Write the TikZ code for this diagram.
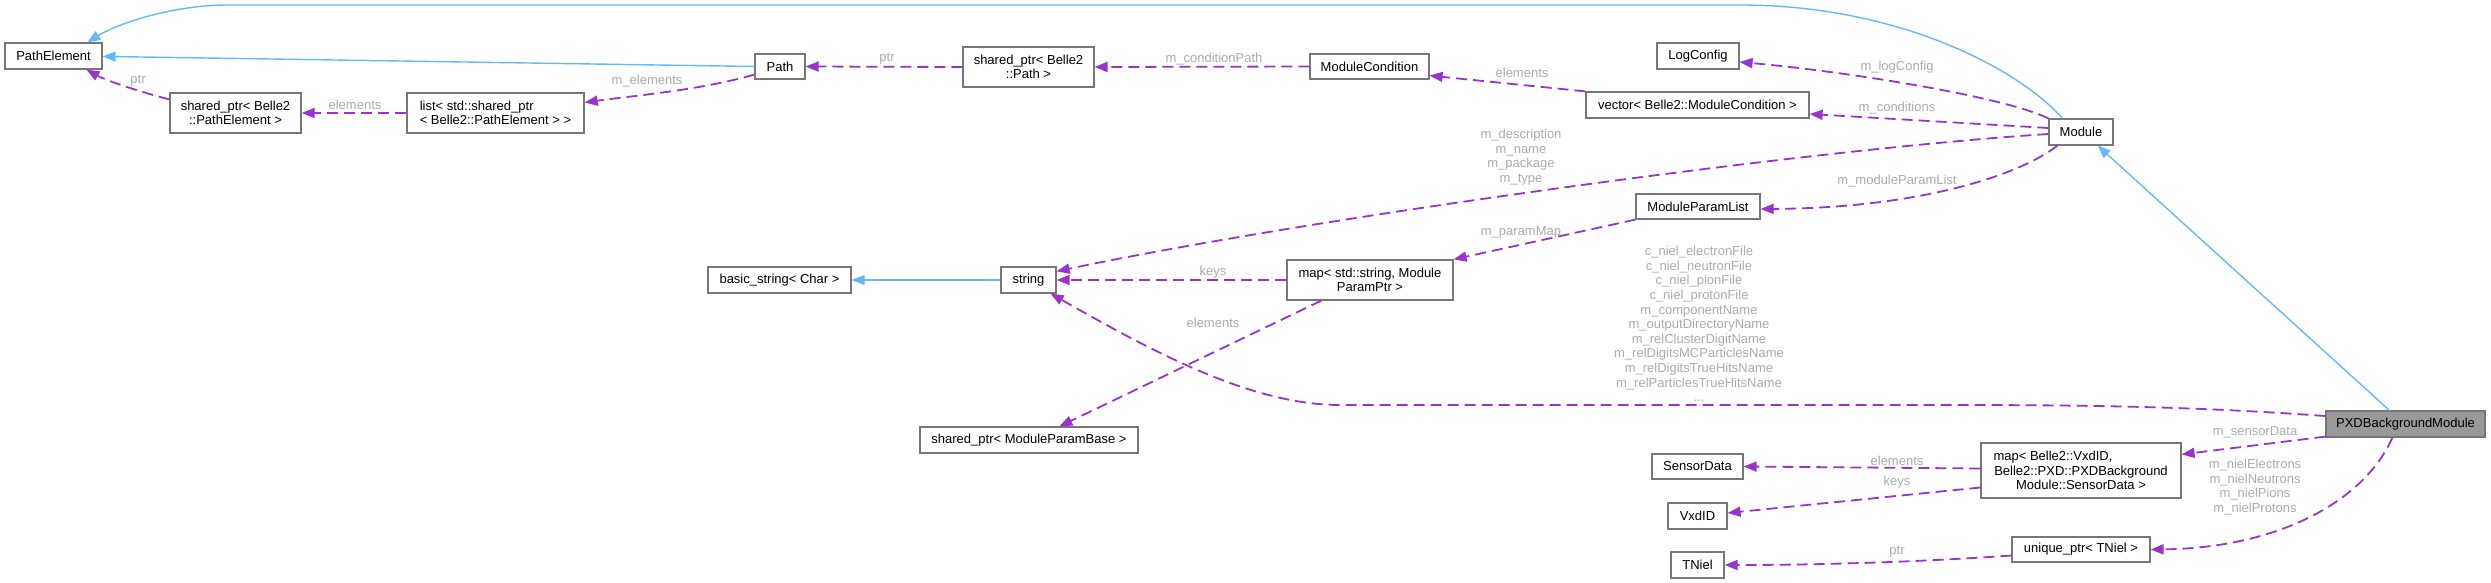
\documentclass[tikz,border=0pt]{standalone}
\usepackage{fontspec}
\setmainfont{Liberation Sans}
\usetikzlibrary{arrows.meta,calc}
\definecolor{edgeblue}{HTML}{63B8FF}
\definecolor{edgepurple}{HTML}{9A32CD}
\definecolor{boxgray}{HTML}{777777}
\definecolor{lblgray}{HTML}{ABABAB}
\definecolor{pxdfill}{HTML}{999999}
\begin{document}
\begin{tikzpicture}[x=0.5pt,y=-0.5pt,
  font=\fontsize{6.5}{7.3}\selectfont,
  cls/.style={draw=boxgray, line width=0.6pt, fill=white, inner sep=0pt, align=center},
  inh/.style={draw=edgeblue, line width=0.7pt, -{Triangle[length=6.5pt,width=5pt]}},
  use/.style={draw=edgepurple, line width=0.9pt, dash pattern=on 5.5pt off 3pt, -{Triangle[length=6.5pt,width=5pt]}},
  lbl/.style={text=lblgray, inner sep=0pt, align=center},
]
\useasboundingbox (0,0) rectangle (2491,583);

% ---- class nodes
\node[cls, minimum width=48.5pt, minimum height=13pt] (PathElement) at (53.5,56) {PathElement};
\node[cls, minimum width=65.5pt, minimum height=20pt] (spPE) at (235.5,113) {shared\_ptr< Belle2\\::PathElement >};
\node[cls, minimum width=88.5pt, minimum height=20pt, align=left] (listPE) at (495.5,113) {list< std::shared\_ptr\\< Belle2::PathElement > >};
\node[cls, minimum width=25pt, minimum height=12.5pt] (Path) at (780,66.5) {Path};
\node[cls, minimum width=65.5pt, minimum height=20pt] (spPath) at (1028.5,67) {shared\_ptr< Belle2\\::Path >};
\node[cls, minimum width=59.5pt, minimum height=12.5pt] (ModCond) at (1369.5,66.5) {ModuleCondition};
\node[cls, minimum width=41pt, minimum height=13pt] (LogConfig) at (1698,56) {LogConfig};
\node[cls, minimum width=111.5pt, minimum height=13pt] (vector) at (1697.5,105) {vector< Belle2::ModuleCondition >};
\node[cls, minimum width=32pt, minimum height=13pt] (Module) at (2081,132) {Module};
\node[cls, minimum width=62pt, minimum height=12.5pt] (MPL) at (1698,206.5) {ModuleParamList};
\node[cls, minimum width=71.5pt, minimum height=13pt] (bstring) at (779.5,280) {basic\_string< Char >};
\node[cls, minimum width=27.5pt, minimum height=13pt] (string) at (1028.5,280) {string};
\node[cls, minimum width=83pt, minimum height=20pt] (mapSP) at (1370,280) {map< std::string, Module\\ParamPtr >};
\node[cls, minimum width=109pt, minimum height=13pt] (spMPB) at (1029,440) {shared\_ptr< ModuleParamBase >};
\node[cls, fill=pxdfill, minimum width=79.5pt, minimum height=13pt] (PXD) at (2405.5,424) {PXDBackgroundModule};
\node[cls, minimum width=100pt, minimum height=27.5pt] (mapVxd) at (2081,470.5) {map< Belle2::VxdID,\kern28pt\\Belle2::PXD::PXDBackground\\Module::SensorData >};
\node[cls, minimum width=45.5pt, minimum height=12.5pt] (SensorData) at (1697.5,466.5) {SensorData};
\node[cls, minimum width=29.5pt, minimum height=13pt] (VxdID) at (1697.5,516) {VxdID};
\node[cls, minimum width=26.5pt, minimum height=13pt] (TNiel) at (1697.5,565) {TNiel};
\node[cls, minimum width=69pt, minimum height=12.5pt] (uptr) at (2081,549.5) {unique\_ptr< TNiel >};

% ---- inheritance (blue)
\draw[inh] ($(Module.north west)+(14,0)$) .. controls (2020,70) and (1900,5) .. (1740,5) -- (228,5) .. controls (170,5) and (115,25) .. ($(PathElement.north west)+(83,0)$);
\draw[inh] (Path.west) -- ($(PathElement.north east)+(0,14)$);
\draw[inh] (string.west) -- (bstring.east);
\draw[inh] ($(PXD.north west)+(64,0)$) -- ($(Module.south east)+(-16,0)$);

% ---- usage (purple, dashed)
\draw[use] ($(spPE.north west)+(0,7)$) .. controls (140,92) and (105,80) .. ($(PathElement.south west)+(82,0)$);
\draw[use] (listPE.west) -- (spPE.east);
\draw[use] ($(Path.south west)+(0,-5)$) .. controls (700,90) and (640,95) .. ($(listPE.north east)+(0,10)$);
\draw[use] (spPath.west) -- (Path.east);
\draw[use] (ModCond.west) -- (spPath.east);
\draw[use] (vector.north west) -- ($(ModCond.south east)+(0,-4)$);
\draw[use] (Module.north west) .. controls (2005,97) and (1850,72) .. ($(LogConfig.east)+(0,6)$);
\draw[use] ($(Module.west)+(0,-4)$) -- ($(vector.east)+(0,9)$);
\draw[use] ($(Module.west)+(0,2)$) .. controls (1800,150) and (1300,220) .. ($(string.north east)+(0,5)$);
\draw[use] ($(Module.south west)+(9,0)$) .. controls (2020,175) and (1920,208) .. ($(MPL.east)+(0,2.5)$);
\draw[use] (MPL.south west) -- (mapSP.north east);
\draw[use] (mapSP.west) -- (string.east);
\draw[use] ($(mapSP.south west)+(35,0)$) -- ($(spMPB.north west)+(140,0)$);
\draw[use] ($(PXD.west)+(0,-8)$) .. controls (2200,407) and (2100,405) .. (1950,405) -- (1340,405) .. controls (1250,405) and (1150,350) .. ($(string.south east)+(-6,0)$);
\draw[use] ($(PXD.south west)+(0,-1)$) -- ($(mapVxd.north east)+(0,12)$);
\draw[use] ($(PXD.south west)+(67,0)$) .. controls (2365,500) and (2280,548) .. (uptr.east);
\draw[use] ($(mapVxd.west)+(0,-2)$) -- (SensorData.east);
\draw[use] ($(mapVxd.west)+(0,17)$) -- ($(VxdID.east)+(0,-3)$);
\draw[use] ($(uptr.west)+(0,6)$) .. controls (1920,562) and (1820,565) .. (TNiel.east);

% ---- edge labels
\node[lbl] (l1) at (138,81) {ptr};
\node[lbl] (l2) at (355,105) {elements};
\node[lbl] (l3) at (647,81) {m\_elements};
\node[lbl] (l4) at (887,59) {ptr};
\node[lbl] (l5) at (1214,59) {m\_conditionPath};
\node[lbl] (l6) at (1522,73) {elements};
\node[lbl] (l7) at (1897,67) {m\_logConfig};
\node[lbl] (l8) at (1897,108) {m\_conditions};
\node[lbl] (l9) at (1521,157) {m\_description\\m\_name\\m\_package\\m\_type};
\node[lbl] (l10) at (1897,181) {m\_moduleParamList};
\node[lbl] (l11) at (1521,232) {m\_paramMap};
\node[lbl] (l12) at (1213,272) {keys};
\node[lbl] (l13) at (1213,323) {elements};
\node[lbl] (l14) at (1699,324) {c\_niel\_electronFile\\c\_niel\_neutronFile\\c\_niel\_pionFile\\c\_niel\_protonFile\\m\_componentName\\m\_outputDirectoryName\\m\_relClusterDigitName\\m\_relDigitsMCParticlesName\\m\_relDigitsTrueHitsName\\m\_relParticlesTrueHitsName\\...};
\node[lbl] (l15) at (2255,432) {m\_sensorData};
\node[lbl] (l16) at (2255,487) {m\_nielElectrons\\m\_nielNeutrons\\m\_nielPions\\m\_nielProtons};
\node[lbl] (l17) at (1897,461) {elements};
\node[lbl] (l18) at (1897,482) {keys};
\node[lbl] (l19) at (1897,552) {ptr};
\end{tikzpicture}
\end{document}
